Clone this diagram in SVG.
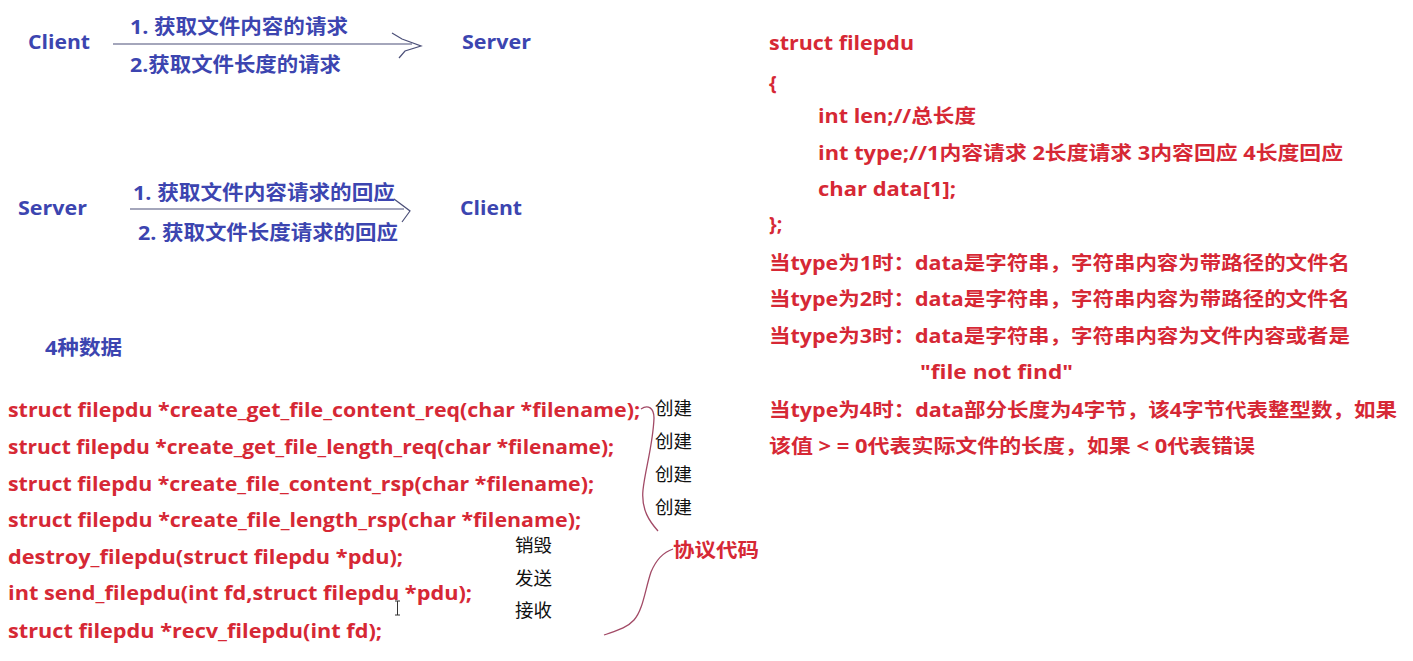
<svg xmlns="http://www.w3.org/2000/svg" width="1413" height="661" viewBox="0 0 1413 661">
<style>
text{font-family:"Open Sans","Noto Sans CJK SC",sans-serif;}
.b{fill:#3c45b0;font-weight:700;font-size:20px;}
.r{fill:#d62835;font-weight:700;font-size:19.5px;}
.k{fill:#111;font-weight:400;font-size:18.5px;font-family:"Noto Sans CJK SC",sans-serif;}
.ln{fill:none;stroke:#4b4f78;stroke-width:1.2;}
.cv{fill:none;stroke:#a24a66;stroke-width:1.3;}
</style>
<rect width="1413" height="661" fill="#ffffff"/>

<g id="connectors">
  <path class="ln" d="M113,44 L412,44"/>
  <path class="ln" d="M392,33 L402,39 L421,46 L405,51 L399,58"/>
  <path class="ln" d="M130,209 L404,209"/>
  <path class="ln" d="M394,199 L410,211 L402,222"/>
  <path class="cv" d="M641,409 C648,404 654,408 654,418 C653,445 645,470 643,490 C641,510 650,522 658,531"/>
  <path class="cv" d="M673,549 C664,552 656,560 651,572 C645,590 643,610 634,620 C627,628 615,631 604,635"/>
</g>

<g id="client1"><text class="b" x="28" y="49" textLength="62" lengthAdjust="spacingAndGlyphs">Client</text></g>
<g id="server1"><text class="b" x="462" y="49" textLength="69" lengthAdjust="spacingAndGlyphs">Server</text></g>
<g id="req1"><text class="b" x="130" y="34" textLength="218" lengthAdjust="spacingAndGlyphs">1. 获取文件内容的请求</text></g>
<g id="req2"><text class="b" x="130" y="72" textLength="211" lengthAdjust="spacingAndGlyphs">2.获取文件长度的请求</text></g>

<g id="server2"><text class="b" x="18" y="215" textLength="69" lengthAdjust="spacingAndGlyphs">Server</text></g>
<g id="client2"><text class="b" x="460" y="215" textLength="62" lengthAdjust="spacingAndGlyphs">Client</text></g>
<g id="rsp1"><text class="b" x="133" y="200" textLength="262" lengthAdjust="spacingAndGlyphs">1. 获取文件内容请求的回应</text></g>
<g id="rsp2"><text class="b" x="138" y="240" textLength="260" lengthAdjust="spacingAndGlyphs">2. 获取文件长度请求的回应</text></g>

<g id="four"><text class="b" x="45" y="355" textLength="77" lengthAdjust="spacingAndGlyphs">4种数据</text></g>

<g id="code">
  <text class="r" x="8" y="417" textLength="632" lengthAdjust="spacingAndGlyphs">struct filepdu *create_get_file_content_req(char *filename);</text>
  <text class="r" x="8" y="454" textLength="606" lengthAdjust="spacingAndGlyphs">struct filepdu *create_get_file_length_req(char *filename);</text>
  <text class="r" x="8" y="491" textLength="586" lengthAdjust="spacingAndGlyphs">struct filepdu *create_file_content_rsp(char *filename);</text>
  <text class="r" x="8" y="527" textLength="573" lengthAdjust="spacingAndGlyphs">struct filepdu *create_file_length_rsp(char *filename);</text>
  <text class="r" x="8" y="564" textLength="395" lengthAdjust="spacingAndGlyphs">destroy_filepdu(struct filepdu *pdu);</text>
  <text class="r" x="8" y="600" textLength="464" lengthAdjust="spacingAndGlyphs">int send_filepdu(int fd,struct filepdu *pdu);</text>
  <text class="r" x="8" y="638" textLength="374" lengthAdjust="spacingAndGlyphs">struct filepdu *recv_filepdu(int fd);</text>
</g>
<path d="M395,601 h5 M397.5,601 v14 M395,615 h5" fill="none" stroke="#333" stroke-width="1"/>

<g id="notes">
  <text class="k" x="655" y="415">创建</text>
  <text class="k" x="655" y="448">创建</text>
  <text class="k" x="655" y="481">创建</text>
  <text class="k" x="655" y="514">创建</text>
  <text class="k" x="515" y="552">销毁</text>
  <text class="k" x="515" y="585">发送</text>
  <text class="k" x="515" y="617">接收</text>
</g>
<g id="protocol"><text class="r" x="673" y="557" textLength="86" lengthAdjust="spacingAndGlyphs">协议代码</text></g>

<g id="struct">
  <text class="r" x="769" y="50" textLength="145" lengthAdjust="spacingAndGlyphs">struct filepdu</text>
  <text class="r" x="769" y="90">{</text>
  <text class="r" x="818" y="123" textLength="158" lengthAdjust="spacingAndGlyphs">int len;//总长度</text>
  <text class="r" x="818" y="160" textLength="525" lengthAdjust="spacingAndGlyphs">int type;//1内容请求 2长度请求 3内容回应 4长度回应</text>
  <text class="r" x="818" y="196" textLength="138" lengthAdjust="spacingAndGlyphs">char data[1];</text>
  <text class="r" x="769" y="231">};</text>
  <text class="r" x="769" y="270" textLength="581" lengthAdjust="spacingAndGlyphs">当type为1时：data是字符串，字符串内容为带路径的文件名</text>
  <text class="r" x="769" y="306" textLength="581" lengthAdjust="spacingAndGlyphs">当type为2时：data是字符串，字符串内容为带路径的文件名</text>
  <text class="r" x="769" y="343" textLength="581" lengthAdjust="spacingAndGlyphs">当type为3时：data是字符串，字符串内容为文件内容或者是</text>
  <text class="r" x="920" y="379" textLength="153" lengthAdjust="spacingAndGlyphs">"file not find"</text>
  <text class="r" x="769" y="417" textLength="628" lengthAdjust="spacingAndGlyphs">当type为4时：data部分长度为4字节，该4字节代表整型数，如果</text>
  <text class="r" x="769" y="453" textLength="486" lengthAdjust="spacingAndGlyphs">该值 &gt; = 0代表实际文件的长度，如果 &lt; 0代表错误</text>
</g>
</svg>
